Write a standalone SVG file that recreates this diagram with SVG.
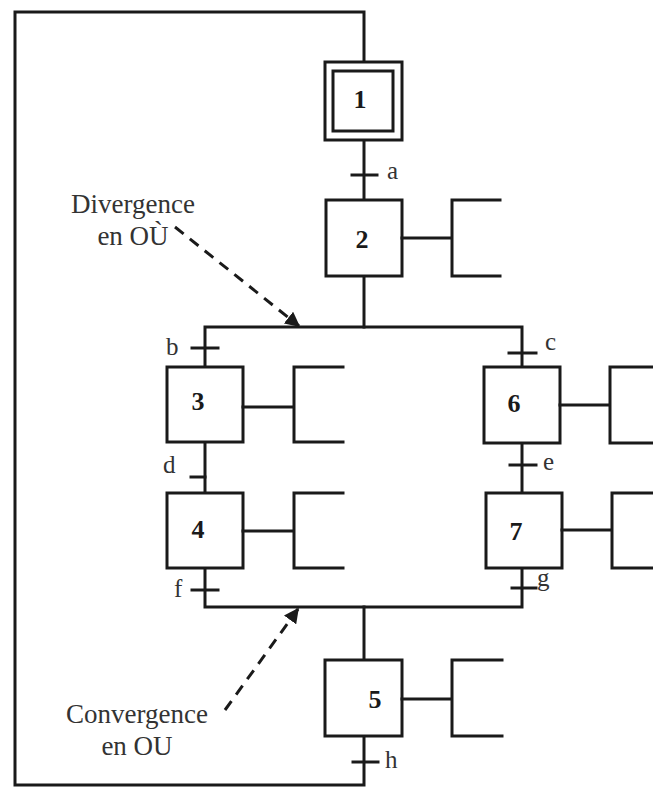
<svg xmlns="http://www.w3.org/2000/svg" width="653" height="787" viewBox="0 0 653 787">
<style>
.ln{fill:none;stroke:#1a1a1a;stroke-width:3;stroke-linecap:square}
.box{fill:#fff;stroke:#1a1a1a;stroke-width:3}
.num{font-family:"Liberation Serif",serif;font-weight:bold;font-size:26px;fill:#1a1a1a;text-anchor:middle}
.lbl{font-family:"Liberation Serif",serif;font-size:25px;fill:#333}
.note{font-family:"Liberation Serif",serif;font-size:27px;fill:#333;text-anchor:middle}
.dash{fill:none;stroke:#1a1a1a;stroke-width:3;stroke-dasharray:11 8}
</style>
<defs>
<marker id="arr" viewBox="0 0 10 10" refX="9" refY="5" markerWidth="5" markerHeight="5" orient="auto" markerUnits="strokeWidth">
<path d="M0,0 L10,5 L0,10 z" fill="#1a1a1a"/>
</marker>
</defs>
<rect width="653" height="787" fill="#fff"/>
<g id="connectors">
<path class="ln" d="M364,62 V12 H15 V785 H364 V736"/>
<path class="ln" d="M364,140 V200"/>
<path class="ln" d="M364,276 V327"/>
<path class="ln" d="M205,367 V327 H522 V367"/>
<path class="ln" d="M205,442 V493"/>
<path class="ln" d="M522,443 V493"/>
<path class="ln" d="M205,568 V607 H522 V568"/>
<path class="ln" d="M364,607 V660"/>
<g id="transitions">
<path class="ln" d="M352,175 H377"/>
<path class="ln" d="M192,348 H218"/>
<path class="ln" d="M509,353 H536"/>
<path class="ln" d="M191,477 H205"/>
<path class="ln" d="M510,465 H536"/>
<path class="ln" d="M192,590 H218"/>
<path class="ln" d="M512,588 H536"/>
<path class="ln" d="M353,762 H378"/>
</g>
<g id="transition-labels">
<text class="lbl" x="387" y="179">a</text>
<text class="lbl" x="166" y="355">b</text>
<text class="lbl" x="545" y="350">c</text>
<text class="lbl" x="163" y="473">d</text>
<text class="lbl" x="543" y="470">e</text>
<text class="lbl" x="174" y="597">f</text>
<text class="lbl" x="537" y="586">g</text>
<text class="lbl" x="385" y="768">h</text>
</g>
</g>
<g id="step1">
<rect class="box" x="325" y="62" width="77" height="78"/>
<rect class="box" x="333" y="71" width="60" height="60"/>
<text class="num" x="360" y="108">1</text>
</g>
<g id="step2">
<rect class="box" x="326" y="200" width="76" height="76"/>
<text class="num" x="362" y="248">2</text>
<path class="ln" d="M402,238 H452 M500,200 H452 V276 H500"/>
</g>
<g id="step3">
<rect class="box" x="167" y="367" width="76" height="75"/>
<text class="num" x="198" y="410">3</text>
<path class="ln" d="M243,407 H294 M343,367 H294 V442 H343"/>
</g>
<g id="step4">
<rect class="box" x="167" y="493" width="76" height="75"/>
<text class="num" x="198" y="538">4</text>
<path class="ln" d="M243,531 H294 M343,493 H294 V568 H343"/>
</g>
<g id="step6">
<rect class="box" x="484" y="367" width="76" height="76"/>
<text class="num" x="514" y="412">6</text>
<path class="ln" d="M560,405 H610 M655,367 H610 V443 H655"/>
</g>
<g id="step7">
<rect class="box" x="486" y="493" width="76" height="75"/>
<text class="num" x="516" y="540">7</text>
<path class="ln" d="M562,530 H612 M655,493 H612 V568 H655"/>
</g>
<g id="step5">
<rect class="box" x="325" y="660" width="77" height="76"/>
<text class="num" x="375" y="708">5</text>
<path class="ln" d="M402,699 H452 M502,660 H452 V736 H502"/>
</g>
<g id="divergence-note">
<text class="note" x="133" y="213">Divergence</text>
<text class="note" x="133" y="245">en OÙ</text>
<path class="dash" d="M175,227 L299,326" marker-end="url(#arr)"/>
</g>
<g id="convergence-note">
<text class="note" x="137" y="723">Convergence</text>
<text class="note" x="137" y="755">en OU</text>
<path class="dash" d="M225,710 L298,609" marker-end="url(#arr)"/>
</g>
</svg>
